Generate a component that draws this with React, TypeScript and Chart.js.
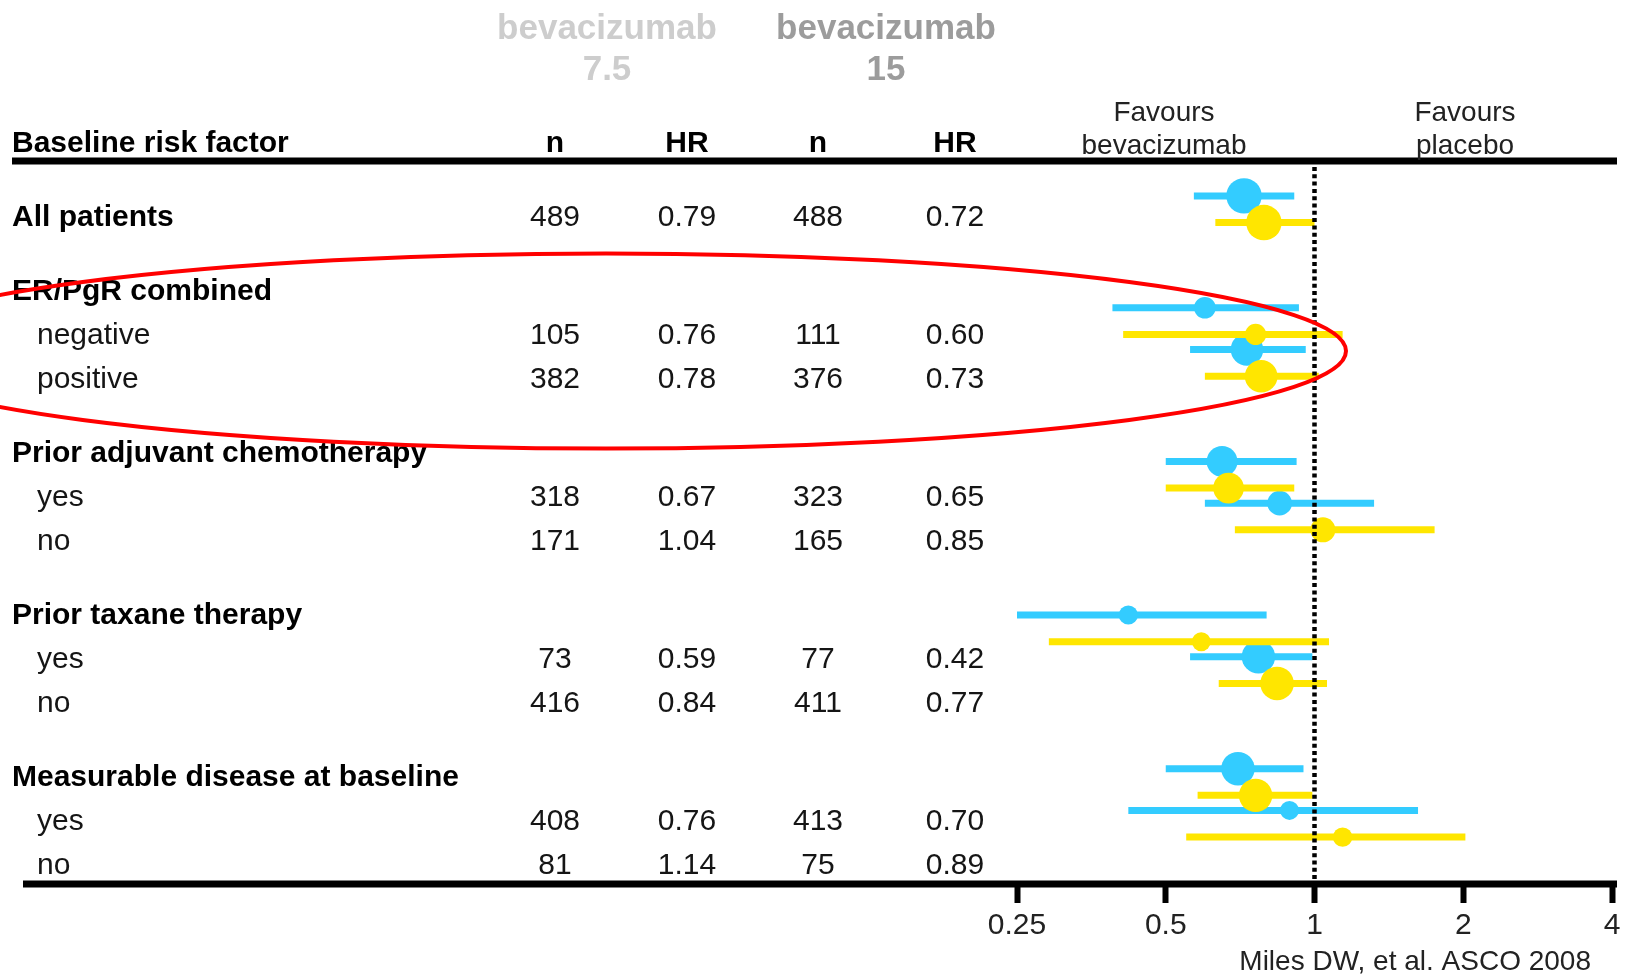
import React, { useEffect, useRef } from "react";
import { Chart, registerables } from "chart.js";

Chart.register(...registerables);

// ---------- data ----------
const rowLabels = [
  "All patients",
  "ER/PgR combined",
  "negative",
  "positive",
  "Prior adjuvant chemotherapy",
  "yes",
  "no",
  "Prior taxane therapy",
  "yes",
  "no",
  "Measurable disease at baseline",
  "yes",
  "no",
];
const rowIsHeader = [true, true, false, false, true, false, false, true, false, false, true, false, false];

// bevacizumab 7.5 (yellow)
const n75 = [489, null, 105, 382, null, 318, 171, null, 73, 416, null, 408, 81];
const hr75 = [0.79, null, 0.76, 0.78, null, 0.67, 1.04, null, 0.59, 0.84, null, 0.76, 1.14];
const lo75 = [0.63, null, 0.41, 0.6, null, 0.5, 0.69, null, 0.29, 0.64, null, 0.58, 0.55];
const hi75 = [1.0, null, 1.14, 1.02, null, 0.91, 1.75, null, 1.07, 1.06, null, 0.99, 2.02];

// bevacizumab 15 (blue)
const n15 = [488, null, 111, 376, null, 323, 165, null, 77, 411, null, 413, 75];
const hr15 = [0.72, null, 0.6, 0.73, null, 0.65, 0.85, null, 0.42, 0.77, null, 0.7, 0.89];
const lo15 = [0.57, null, 0.39, 0.56, null, 0.5, 0.6, null, 0.25, 0.56, null, 0.5, 0.42];
const hi15 = [0.91, null, 0.93, 0.96, null, 0.92, 1.32, null, 0.8, 0.99, null, 0.95, 1.62];

const xTickValues = [0.25, 0.5, 1, 2, 4];
const doseTitle75 = ["bevacizumab", "7.5"];
const doseTitle15 = ["bevacizumab", "15"];
const columnHeaders = ["Baseline risk factor", "n", "HR", "n", "HR"];
const favoursLeft = ["Favours", "bevacizumab"];
const favoursRight = ["Favours", "placebo"];
const sourceNote = "Miles DW, et al. ASCO 2008";

// ---------- layout / style ----------
const W = 1627;
const H = 974;
const FONT = '"Liberation Sans", Arial, Helvetica, sans-serif';
const BLUE = "#33ccff";
const YELLOW = "#ffe600";
const TEXT = "#151515";

const GROUP_GAP = 0.68;
const TEXT_ROW0_PX = 215;
const TEXT_ROW_PX = 44;
const MARK_ROW0_PX = 209;
const MARK_ROW_PX = 41.7;
const PAIR_OFFSET = 0.32;
const AXIS_Y = 883;
const COL_X = [12, 555, 687, 818, 955];
const INDENT_X = 37;

const rowPos: number[] = [];
{
  let acc = 0;
  rowLabels.forEach((_, i) => {
    if (i > 0) acc += 1 + (rowIsHeader[i] ? GROUP_GAP : 0);
    rowPos.push(acc);
  });
}

function ciSegments(lo: (number | null)[], hi: (number | null)[], sign: number) {
  const pts: any[] = [];
  rowPos.forEach((v, i) => {
    if (lo[i] == null || hi[i] == null) return;
    const y = v + sign * PAIR_OFFSET;
    pts.push({ x: lo[i], y }, { x: hi[i], y }, { x: hi[i], y: null });
  });
  return pts;
}

function points(hr: (number | null)[], n: (number | null)[], sign: number) {
  const pts: any[] = [];
  rowPos.forEach((v, i) => {
    if (hr[i] == null) return;
    pts.push({ x: hr[i], y: v + sign * PAIR_OFFSET, n: n[i] });
  });
  return pts;
}

function txt(
  ctx: CanvasRenderingContext2D,
  s: string,
  x: number,
  yMid: number,
  size: number,
  weight: string,
  color: string,
  align: CanvasTextAlign
) {
  ctx.font = `${weight} ${size}px ${FONT}`;
  ctx.fillStyle = color;
  ctx.textAlign = align;
  ctx.textBaseline = "alphabetic";
  ctx.fillText(s, x, yMid + size * 0.358);
}

const decoPlugin = {
  id: "forestDeco",
  beforeDatasetsDraw(chart: any) {
    const ctx: CanvasRenderingContext2D = chart.ctx;
    const bottom = chart.chartArea.bottom;
    ctx.save();
    ctx.strokeStyle = "#000";
    ctx.lineWidth = 7;
    ctx.beginPath();
    ctx.moveTo(12, 161);
    ctx.lineTo(1617, 161);
    ctx.moveTo(23, bottom);
    ctx.lineTo(1617, bottom);
    ctx.stroke();
    ctx.restore();
  },
  afterDatasetsDraw(chart: any) {
    const ctx: CanvasRenderingContext2D = chart.ctx;
    const x1 = chart.scales.x.getPixelForValue(1);
    ctx.save();
    ctx.strokeStyle = "#000";
    ctx.lineWidth = 4.5;
    ctx.setLineDash([4, 3.3]);
    ctx.beginPath();
    ctx.moveTo(x1, 167);
    ctx.lineTo(x1, chart.chartArea.bottom - 3);
    ctx.stroke();
    ctx.restore();
  },
  afterDraw(chart: any) {
    const ctx: CanvasRenderingContext2D = chart.ctx;
    const ys = chart.scales.y;
    ctx.save();
    // dose titles
    txt(ctx, doseTitle75[0], 607, 26, 35, "bold", "#cdcdcd", "center");
    txt(ctx, doseTitle75[1], 607, 67, 35, "bold", "#cdcdcd", "center");
    txt(ctx, doseTitle15[0], 886, 26, 35, "bold", "#9c9c9c", "center");
    txt(ctx, doseTitle15[1], 886, 67, 35, "bold", "#9c9c9c", "center");
    // column headers
    columnHeaders.forEach((h, i) => {
      txt(ctx, h, COL_X[i], 141, 30, "bold", "#000", i === 0 ? "left" : "center");
    });
    txt(ctx, favoursLeft[0], 1164, 111, 28, "normal", "#222", "center");
    txt(ctx, favoursLeft[1], 1164, 144, 28, "normal", "#222", "center");
    txt(ctx, favoursRight[0], 1465, 111, 28, "normal", "#222", "center");
    txt(ctx, favoursRight[1], 1465, 144, 28, "normal", "#222", "center");
    // rows
    rowLabels.forEach((lab, i) => {
      const y = ys.getPixelForValue(rowPos[i]);
      if (rowIsHeader[i]) txt(ctx, lab, COL_X[0], y, 30, "bold", "#000", "left");
      else txt(ctx, lab, INDENT_X, y, 30, "normal", TEXT, "left");
      if (n75[i] != null) {
        txt(ctx, String(n75[i]), COL_X[1], y, 30, "normal", TEXT, "center");
        txt(ctx, (hr75[i] as number).toFixed(2), COL_X[2], y, 30, "normal", TEXT, "center");
        txt(ctx, String(n15[i]), COL_X[3], y, 30, "normal", TEXT, "center");
        txt(ctx, (hr15[i] as number).toFixed(2), COL_X[4], y, 30, "normal", TEXT, "center");
      }
    });
    txt(ctx, sourceNote, 1591, 960, 28, "normal", "#222", "right");
    // red highlight ellipse
    ctx.strokeStyle = "#ff0000";
    ctx.lineWidth = 4;
    ctx.beginPath();
    ctx.ellipse(606, 351, 740, 97.5, 0, 0, Math.PI * 2);
    ctx.stroke();
    ctx.restore();
  },
};

export default function App() {
  const ref = useRef<HTMLCanvasElement | null>(null);
  useEffect(() => {
    document.body.style.margin = "0";
    const canvas = ref.current;
    if (!canvas) return;
    const radius = (c: any) => 2.25 * Math.cbrt(c.raw && c.raw.n ? c.raw.n : 100);
    const chart = new Chart(canvas, {
      type: "scatter",
      data: {
        datasets: [
          {
            label: "7.5 HR",
            data: points(hr75, n75, 1),
            yAxisID: "y2",
            backgroundColor: YELLOW,
            pointBackgroundColor: YELLOW,
            pointBorderWidth: 0,
            pointRadius: radius,
            showLine: false,
            order: 0,
          } as any,
          {
            label: "7.5 CI",
            data: ciSegments(lo75, hi75, 1),
            yAxisID: "y2",
            borderColor: YELLOW,
            borderWidth: 7,
            borderCapStyle: "butt",
            pointRadius: 0,
            showLine: true,
            spanGaps: false,
            order: 1,
          } as any,
          {
            label: "15 HR",
            data: points(hr15, n15, -1),
            yAxisID: "y2",
            backgroundColor: BLUE,
            pointBackgroundColor: BLUE,
            pointBorderWidth: 0,
            pointRadius: radius,
            showLine: false,
            order: 2,
          } as any,
          {
            label: "15 CI",
            data: ciSegments(lo15, hi15, -1),
            yAxisID: "y2",
            borderColor: BLUE,
            borderWidth: 7,
            borderCapStyle: "butt",
            pointRadius: 0,
            showLine: true,
            spanGaps: false,
            order: 3,
          } as any,
        ],
      },
      options: {
        responsive: false,
        animation: false,
        devicePixelRatio: 1,
        events: [],
        layout: { autoPadding: false, padding: { left: 1017, right: 15, top: 0, bottom: 26 } },
        plugins: { legend: { display: false }, tooltip: { enabled: false } },
        scales: {
          x: {
            type: "logarithmic",
            min: 0.25,
            max: 4,
            position: "bottom",
            afterBuildTicks: (axis: any) => {
              axis.ticks = xTickValues.map((v) => ({ value: v }));
            },
            ticks: {
              callback: (v: any) => String(v),
              font: { family: FONT, size: 30 },
              color: "#222",
              padding: 4.5,
              autoSkip: false,
              maxRotation: 0,
              minRotation: 0,
            },
            grid: {
              display: true,
              drawOnChartArea: false,
              drawTicks: true,
              tickLength: 19,
              tickWidth: 6,
              tickColor: "#000",
              color: "#000",
            },
            border: { display: false },
          },
          y: {
            type: "linear",
            display: false,
            reverse: true,
            min: -TEXT_ROW0_PX / TEXT_ROW_PX,
            max: (AXIS_Y - TEXT_ROW0_PX) / TEXT_ROW_PX,
          },
          y2: {
            type: "linear",
            display: false,
            reverse: true,
            min: -MARK_ROW0_PX / MARK_ROW_PX,
            max: (AXIS_Y - MARK_ROW0_PX) / MARK_ROW_PX,
          },
        },
      } as any,
      plugins: [decoPlugin],
    });
    return () => chart.destroy();
  }, []);
  return <canvas ref={ref} width={W} height={H} style={{ display: "block" }} />;
}
